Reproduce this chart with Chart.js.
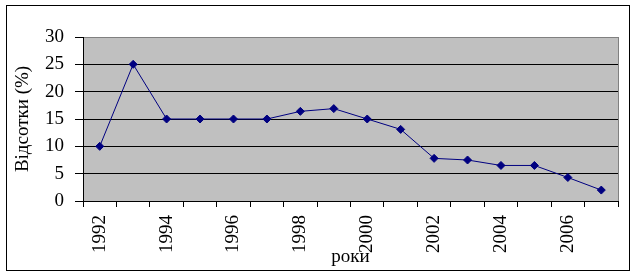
<!DOCTYPE html>
<html>
<head>
<meta charset="utf-8">
<script src="https://cdn.jsdelivr.net/npm/chart.js@4/dist/chart.umd.min.js"></script>
<style>
  html, body { margin: 0; padding: 0; background: #fff; }
  #wrap { width: 635px; height: 275px; position: relative; }
</style>
</head>
<body>
<div id="wrap"><canvas id="chart-share"></canvas></div>
<script>
// share over the years, in %
const years = ["1992", "1993", "1994", "1995", "1996", "1997", "1998", "1999",
               "2000", "2001", "2002", "2003", "2004", "2005", "2006", "2007"];
const shareValues = [10, 25, 15, 15, 15, 15, 16.4, 16.9, 15, 13.1, 7.8, 7.5, 6.5, 6.5, 4.3, 2.0];

const yAxisTitle = "Відсотки (%)";
const xAxisTitle = "роки";
const yMin = 0;
const yMax = 30;
const yStep = 5;

const serif = "'Liberation Serif', 'Times New Roman', serif";

// grey plot area + thin outer frame, like the old spreadsheet chart
const frameBackground = {
  id: "frameBackground",
  beforeDraw(chart) {
    const { ctx, chartArea: a } = chart;
    ctx.save();
    ctx.fillStyle = "#c0c0c0";
    ctx.fillRect(a.left, a.top, a.right - a.left, a.bottom - a.top);
    ctx.strokeStyle = "#808080";
    ctx.lineWidth = 1;
    ctx.strokeRect(a.left + 0.5, a.top + 0.5, a.right - a.left, a.bottom - a.top);
    ctx.restore();
  },
  afterDraw(chart) {
    const { ctx } = chart;
    ctx.save();
    ctx.strokeStyle = "#000";
    ctx.lineWidth = 1;
    ctx.strokeRect(6.5, 5.5, 623, 265);
    ctx.restore();
  },
};

new Chart(document.getElementById("chart-share").getContext("2d"), {
  type: "line",
  data: {
    labels: years,
    datasets: [{
      data: shareValues,
      borderColor: "#000080",
      backgroundColor: "#000080",
      borderWidth: 1,
      pointStyle: "rectRot",
      pointRadius: 4,
      pointBorderWidth: 1,
      tension: 0,
    }],
  },
  options: {
    responsive: true,
    maintainAspectRatio: false,
    animation: false,
    layout: { padding: { left: 0, top: 37, right: 17, bottom: 0 } },
    plugins: {
      legend: { display: false },
      tooltip: { enabled: false },
    },
    scales: {
      x: {
        offset: true,
        afterFit(scale) { scale.height = 74; },
        grid: {
          offset: true,
          drawOnChartArea: false,
          color: "#000",
          tickLength: 6,
        },
        border: { color: "#000", width: 1 },
        ticks: {
          autoSkip: false,
          minRotation: 90,
          maxRotation: 90,
          padding: 8,
          color: "#000",
          font: { family: serif, size: 19 },
          callback(value, index) { return index % 2 === 0 ? this.getLabelForValue(value) : ""; },
        },
        title: {
          display: true,
          text: xAxisTitle,
          color: "#000",
          font: { family: serif, size: 19 },
          padding: { top: 0, bottom: 7 },
        },
      },
      y: {
        min: yMin,
        max: yMax,
        afterFit(scale) { scale.width = 83; },
        grid: {
          color: (ctx) => (ctx.tick && ctx.tick.value === yMax ? "#808080" : "#000"),
          tickColor: "#000",
          tickLength: 8,
        },
        border: { color: "#000", width: 1 },
        ticks: {
          stepSize: yStep,
          padding: 11,
          color: "#000",
          font: { family: serif, size: 19 },
        },
        title: {
          display: true,
          text: yAxisTitle,
          color: "#000",
          font: { family: serif, size: 19 },
          padding: { top: 12, bottom: 0 },
        },
      },
    },
  },
  plugins: [frameBackground],
});
</script>
</body>
</html>
